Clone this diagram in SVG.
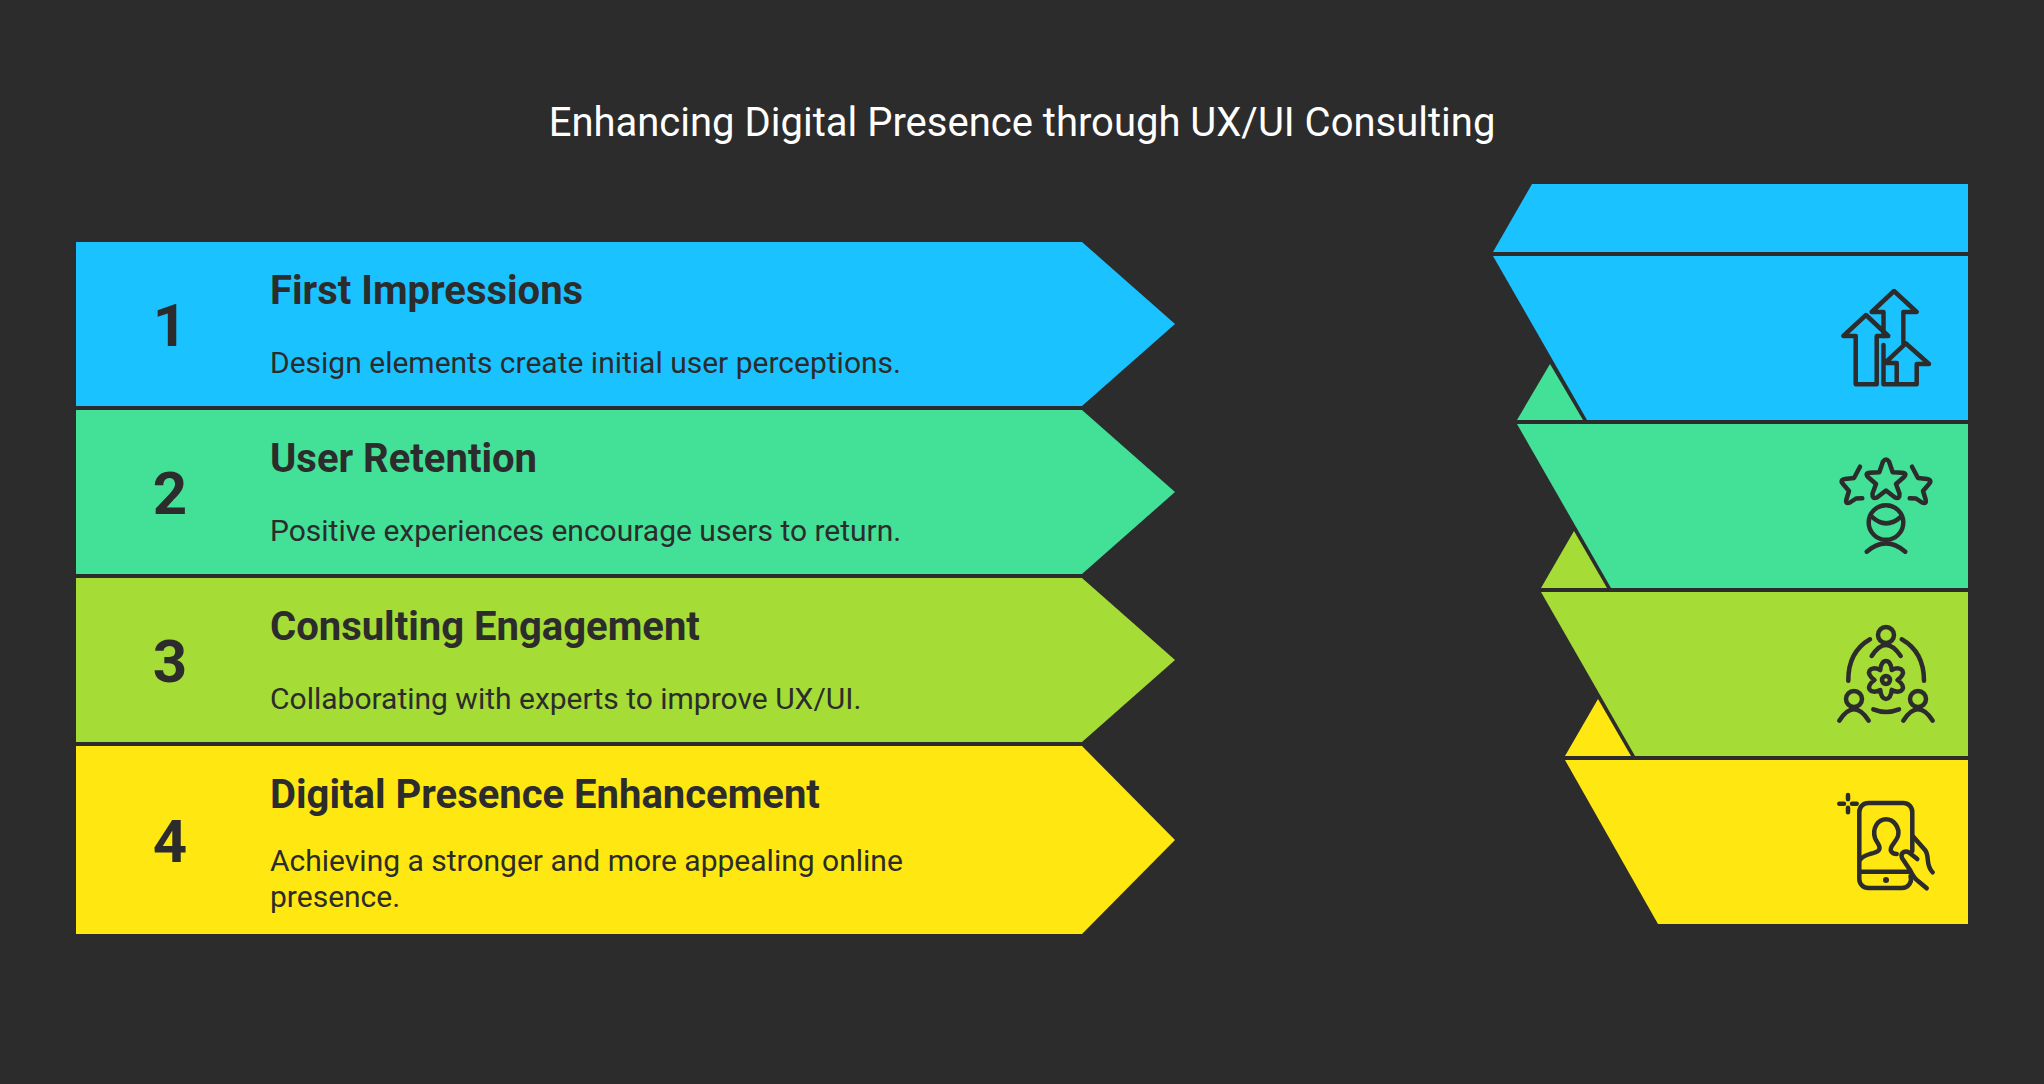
<svg xmlns="http://www.w3.org/2000/svg" width="2044" height="1084" viewBox="0 0 2044 1084">
<style>
text{font-family:Roboto,"Liberation Sans",sans-serif;fill:#2c2c2c}
.t{font-size:40px;fill:#fff;text-anchor:middle}
.n{font-size:60px;font-weight:700;text-anchor:middle}
.h{font-size:40px;font-weight:700}
.b{font-size:30px}
.i{fill:none;stroke:#2c2c2c;stroke-width:4.5;stroke-linecap:round;stroke-linejoin:round}
.c1{fill:#1ac3ff}.c2{fill:#43e097}.c3{fill:#a5dc36}.c4{fill:#ffe711}
</style>
<rect width="2044" height="1084" fill="#2c2c2c"/>
<text class="t" x="1022" y="136">Enhancing Digital Presence through UX/UI Consulting</text>
<g id="connectors"></g>
<g id="node1">
<path class="c1" d="M76 242H1082L1175 324L1082 406H76Z"/>
<text class="n" x="170" y="346">1</text>
<text class="h" x="270" y="304">First Impressions</text>
<text class="b" x="270" y="373">Design elements create initial user perceptions.</text>
<path class="c1" d="M1532 184H1968V252H1493Z"/>
<path class="c2" d="M1550 364L1583 420H1517Z"/>
<path class="c1" d="M1493 256H1968V420H1587Z"/>
<path class="i" d="M1866 315L1843.300 336H1855.700V384.300H1876.700V336H1888.300Z"/>
<path class="i" d="M1883.500 336V312H1871.700L1894 291L1916.700 312H1903.300V343M1883.500 345V384.300H1916.700V364H1929L1905.700 343.300L1885 363H1896.700V384.300"/>
</g>
<g id="node2">
<path class="c2" d="M76 410H1082L1175 492L1082 574H76Z"/>
<text class="n" x="170" y="514">2</text>
<text class="h" x="270" y="472">User Retention</text>
<text class="b" x="270" y="541">Positive experiences encourage users to return.</text>
<path class="c3" d="M1574 531L1607 588H1541Z"/>
<path class="c2" d="M1517 424H1968V588H1611Z"/>
<path class="i" d="M1879.300 472.300L1883 461.500Q1886 457.500 1889 461.500L1892.700 472.300L1902 472.700Q1907.500 473 1904 477L1896 484L1899.500 493.500Q1900 499.500 1895 497.500L1886 490.500L1877 497.500Q1872 499.500 1872.500 493.500L1876 484L1868 477Q1864.500 473 1870 472.700Z"/>
<path class="i" d="M1860 466.700L1854 478L1845 479Q1839.500 480 1843 484L1849 491L1846.500 499Q1845 504.500 1850 502.500L1856 498.500L1862.300 498.300"/>
<path class="i" d="M1912 466.700L1918 478L1927 479Q1932.500 480 1929 484L1923 491L1925.500 499Q1927 504.500 1922 502.500L1916 498.500L1909.700 498.300"/>
<circle class="i" cx="1886" cy="522.500" r="17.300"/>
<path class="i" d="M1871.700 516.700Q1886 530 1901 516.700M1866.700 551.700Q1886 535 1905.300 551.700"/>
</g>
<g id="node3">
<path class="c3" d="M76 578H1082L1175 660L1082 742H76Z"/>
<text class="n" x="170" y="682">3</text>
<text class="h" x="270" y="640">Consulting Engagement</text>
<text class="b" x="270" y="709">Collaborating with experts to improve UX/UI.</text>
<path class="c4" d="M1598 699L1631 756H1565Z"/>
<path class="c3" d="M1541 592H1968V756H1635Z"/>
<circle class="i" cx="1886" cy="635" r="8"/>
<circle class="i" cx="1854" cy="699" r="8"/>
<circle class="i" cx="1918" cy="699" r="8"/>
<circle class="i" cx="1886" cy="680" r="4"/>
<path class="i" d="M1871.700 656Q1886 634 1900.700 656M1839.300 720.700Q1854 698 1868.700 720.700M1903.300 720.700Q1918 698 1932.700 720.700M1870 639.300Q1848 652 1848.300 680.700M1901.700 639.300Q1924 652 1924 680.700M1873.300 709.300Q1886 714.500 1899 709.300"/>
<path class="i" d="M1880.250 670.040C1881 658 1891 658 1891.750 670.040C1902.550 664.670 1907.550 673.330 1897.500 680C1907.550 686.670 1902.550 695.330 1891.750 689.960C1891 702 1881 702 1880.250 689.960C1869.450 695.330 1864.450 686.670 1874.500 680C1864.450 673.330 1869.450 664.670 1880.250 670.040Z"/>
</g>
<g id="node4">
<path class="c4" d="M76 746H1082L1175 840L1082 934H76Z"/>
<text class="n" x="170" y="862">4</text>
<text class="h" x="270" y="808">Digital Presence Enhancement</text>
<text class="b" x="270" y="871">Achieving a stronger and more appealing online</text>
<text class="b" x="270" y="907">presence.</text>
<path class="c4" d="M1565 760H1968V924H1658Z"/>
<path class="i" d="M1912.300 851V812a9 9 0 0 0-9-9H1868.300a9 9 0 0 0-9 9V879a9 9 0 0 0 9 9H1902a9 9 0 0 0 8.500-12M1859.500 871.700H1910"/>
<circle cx="1886" cy="880" r="3" fill="#2c2c2c"/>
<path class="i" d="M1848 795V799.300M1848 807.700V812.300M1839.300 803.700H1844M1852 803.700H1856.700"/>
<path class="i" d="M1860.500 859.300C1864 854 1874 854 1878 851C1882 847 1877 843 1875 838C1872 828 1878 819.300 1886 819.300C1894 819.300 1900 828 1898 836C1896 843 1889 846 1891 851C1892 853 1894 854 1896.700 854"/>
<path class="i" d="M1917.300 859L1909 852.500C1905 850 1900 853 1902 858L1910 870C1913 876 1915 879 1918 881L1926.700 888.300M1913.300 836.700L1925 850C1930 856 1925 865 1932.700 872.300"/>
</g>
</svg>
